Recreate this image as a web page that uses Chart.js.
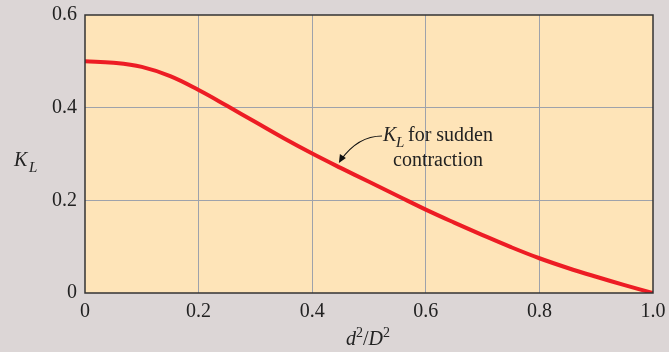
<!DOCTYPE html>
<html>
<head>
<meta charset="utf-8">
<script src="https://cdn.jsdelivr.net/npm/chart.js@4.4.1/dist/chart.umd.min.js"></script>
<style>
  html, body { margin: 0; padding: 0; background: #dcd6d6; }
  #wrap { width: 669px; height: 352px; }
</style>
</head>
<body>
<div id="wrap"><canvas id="klChart"></canvas></div>
<script>
// area ratio d^2/D^2 and loss coefficient
const ratio = [0, 0.05, 0.1, 0.15, 0.2, 0.25, 0.3, 0.35, 0.4, 0.45, 0.5,
               0.55, 0.6, 0.65, 0.7, 0.75, 0.8, 0.85, 0.9, 0.95, 1.0];
const kL = [0.5, 0.497, 0.488, 0.468, 0.438, 0.404, 0.369, 0.334, 0.301, 0.270, 0.240,
            0.210, 0.180, 0.152, 0.125, 0.099, 0.075, 0.054, 0.035, 0.017, 0];
const xTicks = [0, 0.2, 0.4, 0.6, 0.8, 1.0];
const yTicks = [0, 0.2, 0.4, 0.6];

const serif = '"Liberation Serif", "DejaVu Serif", serif';
const ink = '#222';

// background, frame, axis titles and the callout
const decor = {
    id: 'decor',
    beforeDraw(chart) {
        const { ctx, chartArea: a } = chart;
        ctx.save();
        ctx.fillStyle = '#dcd6d6';
        ctx.fillRect(0, 0, chart.width, chart.height);
        ctx.fillStyle = '#fee4b8';
        ctx.fillRect(a.left, a.top, a.right - a.left, a.bottom - a.top);
        ctx.restore();
    },
    afterDraw(chart) {
        const { ctx, chartArea: a, scales: { x, y } } = chart;
        ctx.save();
        ctx.strokeStyle = '#333';
        ctx.lineWidth = 1.5;
        ctx.strokeRect(a.left, a.top, a.right - a.left, a.bottom - a.top);

        ctx.fillStyle = ink;
        ctx.textBaseline = 'alphabetic';
        ctx.textAlign = 'left';

        // y title K_L
        ctx.font = 'italic 20px ' + serif;
        ctx.fillText('K', 14, 166);
        ctx.font = 'italic 15px ' + serif;
        ctx.fillText('L', 29, 172);

        // x title d^2/D^2
        let cx = (a.left + a.right) / 2 - 23;
        const by = 345;
        ctx.font = 'italic 20px ' + serif;
        ctx.fillText('d', cx, by); cx += ctx.measureText('d').width;
        ctx.font = '14px ' + serif;
        ctx.fillText('2', cx, by - 8); cx += ctx.measureText('2').width;
        ctx.font = '20px ' + serif;
        ctx.fillText('/', cx, by); cx += ctx.measureText('/').width;
        ctx.font = 'italic 20px ' + serif;
        ctx.fillText('D', cx, by); cx += ctx.measureText('D').width;
        ctx.font = '14px ' + serif;
        ctx.fillText('2', cx, by - 8);

        // callout text
        const tx = 383, ty = 141;
        ctx.font = 'italic 20px ' + serif;
        ctx.fillText('K', tx, ty);
        ctx.font = 'italic 15px ' + serif;
        ctx.fillText('L', tx + 13, ty + 6);
        ctx.font = '20px ' + serif;
        ctx.fillText('for sudden', tx + 25, ty);
        ctx.fillText('contraction', tx + 10, ty + 25);

        // callout arrow to the curve
        const px = x.getPixelForValue(0.447), py = y.getPixelForValue(0.272) - 4;
        ctx.strokeStyle = '#111';
        ctx.lineWidth = 1.2;
        ctx.beginPath();
        ctx.moveTo(tx - 1, ty - 5);
        ctx.quadraticCurveTo(358, 136, px + 2, py - 3);
        ctx.stroke();
        ctx.fillStyle = '#111';
        ctx.beginPath();
        ctx.moveTo(px, py);
        ctx.lineTo(px + 1, py - 9);
        ctx.lineTo(px + 7, py - 5);
        ctx.closePath();
        ctx.fill();
        ctx.restore();
    }
};

new Chart(document.getElementById('klChart'), {
    type: 'line',
    data: {
        datasets: [{
            data: ratio.map((r, i) => ({ x: r, y: kL[i] })),
            borderColor: '#ed1c24',
            borderWidth: 4,
            pointRadius: 0,
            tension: 0.4,
            fill: false
        }]
    },
    options: {
        responsive: true,
        maintainAspectRatio: false,
        animation: false,
        layout: { padding: { left: 0, top: 15, right: 16, bottom: 0 } },
        plugins: { legend: { display: false }, tooltip: { enabled: false } },
        scales: {
            x: {
                type: 'linear',
                min: 0, max: 1,
                afterBuildTicks: s => { s.ticks = xTicks.map(v => ({ value: v })); },
                afterFit: s => { s.height = 59; s.paddingLeft = 0; s.paddingRight = 0; },
                border: { display: false },
                grid: {
                    drawTicks: false,
                    color: c => (c.tick && (c.tick.value === 0 || c.tick.value === 1)) ? 'rgba(0,0,0,0)' : '#9ea2ab',
                    lineWidth: 1
                },
                ticks: {
                    padding: 7,
                    color: ink,
                    font: { family: serif, size: 20 },
                    callback: v => v === 0 ? '0' : v.toFixed(1)
                }
            },
            y: {
                min: 0, max: 0.6,
                afterBuildTicks: s => { s.ticks = yTicks.map(v => ({ value: v })); },
                afterFit: s => { s.width = 85; s.paddingTop = 0; s.paddingBottom = 0; },
                border: { display: false },
                grid: {
                    drawTicks: false,
                    color: c => (c.tick && (c.tick.value === 0 || c.tick.value === 0.6)) ? 'rgba(0,0,0,0)' : '#9ea2ab',
                    lineWidth: 1
                },
                ticks: {
                    padding: 8,
                    color: ink,
                    font: { family: serif, size: 20 },
                    callback: v => v === 0 ? '0' : v.toFixed(1)
                }
            }
        }
    },
    plugins: [decor]
});
</script>
</body>
</html>
